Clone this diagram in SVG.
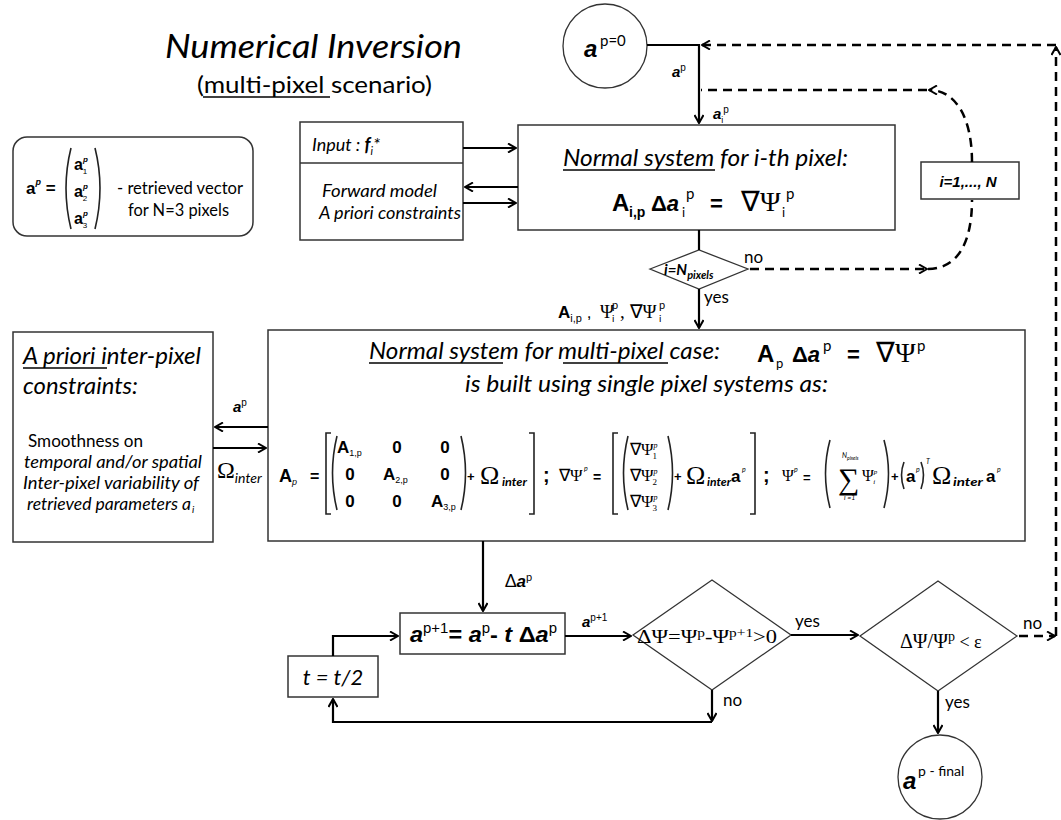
<svg xmlns="http://www.w3.org/2000/svg" width="1061" height="820" viewBox="0 0 1061 820">
<style>
.t{font-family:Lato,"Liberation Sans",sans-serif;fill:#000}
.i{font-style:italic}
.b{font-weight:bold}
.m{font-family:"Liberation Sans",Arial,sans-serif;font-weight:bold;fill:#000}
.s{font-family:"Liberation Serif","Times New Roman",serif;fill:#000}
.box{fill:#fff;stroke:#333;stroke-width:1.5}
.ln{fill:none;stroke:#000;stroke-width:2.2}
.ds{fill:none;stroke:#000;stroke-width:2.5;stroke-dasharray:9,6}
.br{fill:none;stroke:#222;stroke-width:1.6}
.ul{stroke:#000;stroke-width:1.3}
</style>
<defs>
<marker id="ah" viewBox="0 0 10 10" refX="9" refY="5" markerWidth="10" markerHeight="10" markerUnits="userSpaceOnUse" orient="auto">
<path d="M1,0.5 L9,5 L1,9.5" fill="none" stroke="#000" stroke-width="2"/>
</marker>
</defs>
<rect width="1061" height="820" fill="#fff"/>

<g id="title">
<text class="t i" x="165" y="58" font-size="33" textLength="297" lengthAdjust="spacingAndGlyphs">Numerical Inversion</text>
<text class="t" x="197" y="93" font-size="24" textLength="235" lengthAdjust="spacingAndGlyphs">(multi-pixel scenario)</text>
<line class="ul" x1="203" y1="97" x2="330" y2="97"/>
</g>

<g id="legend">
<rect class="box" x="13" y="137" width="240" height="99" rx="14"/>
<text class="m" x="26" y="194" font-size="17">a<tspan font-size="9" font-style="italic" dy="-9">p</tspan><tspan dy="9" font-size="17"> =</tspan></text>
<path class="br" d="M71,148 Q61,188 71,229"/>
<path class="br" d="M95,148 Q105,188 95,229"/>
<text class="m" x="74" y="170" font-size="16">a<tspan font-size="8" font-style="italic" dy="-8">p</tspan><tspan font-size="8" font-weight="normal" dx="-5" dy="12">1</tspan></text>
<text class="m" x="74" y="197" font-size="16">a<tspan font-size="8" font-style="italic" dy="-8">p</tspan><tspan font-size="8" font-weight="normal" dx="-5" dy="12">2</tspan></text>
<text class="m" x="74" y="224" font-size="16">a<tspan font-size="8" font-style="italic" dy="-8">p</tspan><tspan font-size="8" font-weight="normal" dx="-5" dy="12">3</tspan></text>
<text class="t" x="117" y="194" font-size="17" textLength="126" lengthAdjust="spacingAndGlyphs">- retrieved vector</text>
<text class="t" x="128" y="216" font-size="17" textLength="101" lengthAdjust="spacingAndGlyphs">for N=3 pixels</text>
</g>

<g id="start">
<circle cx="605" cy="46" r="42" fill="#fff" stroke="#333" stroke-width="1.3"/>
<text class="m i" x="584" y="57" font-size="24">a</text>
<text class="t" x="600" y="46" font-size="15">p=0</text>
</g>

<g id="input">
<rect class="box" x="300" y="122" width="163" height="118"/>
<line x1="300" y1="163" x2="463" y2="163" stroke="#333" stroke-width="1.5"/>
<text class="t i" x="312" y="151" font-size="18">Input : <tspan font-weight="bold">f</tspan><tspan font-size="11" dy="4">i</tspan><tspan dy="-4">*</tspan></text>
<text class="t i" x="322" y="197" font-size="17" textLength="115" lengthAdjust="spacingAndGlyphs">Forward model</text>
<text class="t i" x="319" y="219" font-size="17" textLength="142" lengthAdjust="spacingAndGlyphs">A priori constraints</text>
</g>

<g id="pixel-system">
<rect class="box" x="518" y="125" width="377" height="105"/>
<text class="t i" x="563" y="166" font-size="23" textLength="285" lengthAdjust="spacingAndGlyphs">Normal system for  i-th pixel:</text>
<line class="ul" x1="563" y1="170" x2="715" y2="170"/>
<text class="m" x="612" y="211" font-size="24">A</text>
<text class="m" x="629" y="217" font-size="14">i,p</text>
<text class="m" x="651" y="211" font-size="22">Δ<tspan font-style="italic">a</tspan></text>
<text class="t" x="682" y="217" font-size="13">i</text>
<text class="t" x="686" y="199" font-size="15">p</text>
<text class="m" x="710" y="211" font-size="22">=</text>
<text class="s" x="741" y="211" font-size="28">∇Ψ</text>
<text class="t" x="782" y="217" font-size="13">i</text>
<text class="t" x="786" y="199" font-size="15">p</text>
</g>

<g id="loop-index">
<rect class="box" x="921" y="162" width="98" height="37"/>
<text class="m i" x="968" y="187" font-size="15" text-anchor="middle">i=1,..., N</text>
</g>

<g id="check-pixels">
<polygon points="650,269 699,250 748,269 699,289" fill="#fff" stroke="#333" stroke-width="1.3"/>
<text class="t i b" x="664" y="275" font-size="15">i=N<tspan font-size="11" dy="4">pixels</tspan></text>
</g>

<g id="constraints">
<rect class="box" x="13" y="332" width="200" height="210"/>
<text class="t i" x="23" y="364" font-size="23" textLength="178" lengthAdjust="spacingAndGlyphs">A priori  inter-pixel</text>
<line class="ul" x1="23" y1="368" x2="107" y2="368"/>
<text class="t i" x="23" y="394" font-size="23" textLength="115" lengthAdjust="spacingAndGlyphs">constraints:</text>
<text class="t" x="28" y="447" font-size="17" textLength="115" lengthAdjust="spacingAndGlyphs">Smoothness on</text>
<text class="t i" x="24" y="468" font-size="17" textLength="178" lengthAdjust="spacingAndGlyphs">temporal and/or spatial</text>
<text class="t i" x="23" y="489" font-size="17" textLength="176" lengthAdjust="spacingAndGlyphs">Inter-pixel variability of</text>
<text class="t i" x="27" y="510" font-size="17" textLength="164" lengthAdjust="spacingAndGlyphs">retrieved parameters a</text>
<text class="t i" x="192" y="513" font-size="10">i</text>
</g>

<g id="multi-system">
<rect class="box" x="268" y="330" width="757" height="211"/>
<text class="t i" x="369" y="359" font-size="24" textLength="351" lengthAdjust="spacingAndGlyphs">Normal system for  multi-pixel case:</text>
<line class="ul" x1="369" y1="363" x2="503" y2="363"/>
<line class="ul" x1="563" y1="363" x2="668" y2="363"/>
<text class="m" x="757" y="362" font-size="24">A</text>
<text class="t" x="776" y="368" font-size="13">p</text>
<text class="m" x="792" y="362" font-size="22">Δ<tspan font-style="italic">a</tspan></text>
<text class="t" x="823" y="351" font-size="15">p</text>
<text class="m" x="847" y="362" font-size="22">=</text>
<text class="s" x="876" y="362" font-size="28">∇Ψ</text>
<text class="t" x="917" y="351" font-size="15">p</text>
<text class="t i" x="465" y="392" font-size="24" textLength="363" lengthAdjust="spacingAndGlyphs">is built using single pixel systems as:</text>

<text class="m" x="279" y="482" font-size="18">A<tspan font-size="9" font-style="italic" font-weight="normal" dy="3">p</tspan></text>
<text class="m" x="310" y="482" font-size="16">=</text>
<path class="br" d="M331,433 H326 V514 H331"/>
<path class="br" d="M337,436 Q328,473 337,510"/>
<text class="m" x="337" y="453" font-size="17">A<tspan font-size="9" font-weight="normal" dy="3">1,p</tspan></text>
<text class="m" x="397" y="453" font-size="17" text-anchor="middle">0</text>
<text class="m" x="445" y="453" font-size="17" text-anchor="middle">0</text>
<text class="m" x="350" y="480" font-size="17" text-anchor="middle">0</text>
<text class="m" x="383" y="480" font-size="17">A<tspan font-size="9" font-weight="normal" dy="3">2,p</tspan></text>
<text class="m" x="445" y="480" font-size="17" text-anchor="middle">0</text>
<text class="m" x="350" y="507" font-size="17" text-anchor="middle">0</text>
<text class="m" x="397" y="507" font-size="17" text-anchor="middle">0</text>
<text class="m" x="431" y="507" font-size="17">A<tspan font-size="9" font-weight="normal" dy="3">3,p</tspan></text>
<path class="br" d="M461,436 Q470,473 461,510"/>
<text class="m" x="467" y="481" font-size="13">+</text>
<text class="s" x="480" y="484" font-size="26">Ω</text>
<text class="t i b" x="502" y="486" font-size="11" textLength="25" lengthAdjust="spacingAndGlyphs">inter</text>
<path class="br" d="M529,433 H534 V514 H529"/>
<text class="m" x="543" y="482" font-size="20">;</text>
<text class="s" x="559" y="481" font-size="17">∇Ψ</text>
<text class="t i" x="584" y="471" font-size="7">p</text>
<text class="m" x="593" y="482" font-size="14">=</text>
<path class="br" d="M618,433 H613 V514 H618"/>
<path class="br" d="M628,436 Q619,473 628,510"/>
<text class="s" x="630" y="455" font-size="17">∇Ψ<tspan font-size="8" font-style="italic" dy="-7">p</tspan><tspan font-size="9" dx="-5" dy="11">1</tspan></text>
<text class="s" x="630" y="481" font-size="17">∇Ψ<tspan font-size="8" font-style="italic" dy="-7">p</tspan><tspan font-size="9" dx="-5" dy="11">2</tspan></text>
<text class="s" x="630" y="507" font-size="17">∇Ψ<tspan font-size="8" font-style="italic" dy="-7">p</tspan><tspan font-size="9" dx="-5" dy="11">3</tspan></text>
<path class="br" d="M668,436 Q677,473 668,510"/>
<text class="m" x="674" y="481" font-size="13">+</text>
<text class="s" x="686" y="484" font-size="26">Ω</text>
<text class="t i b" x="707" y="486" font-size="11" textLength="24" lengthAdjust="spacingAndGlyphs">inter</text>
<text class="m" x="731" y="482" font-size="17">a</text>
<text class="t i" x="742" y="472" font-size="7">p</text>
<path class="br" d="M750,433 H755 V514 H750"/>
<text class="m" x="763" y="482" font-size="20">;</text>
<text class="s" x="782" y="481" font-size="16">Ψ</text>
<text class="t i" x="794" y="472" font-size="7">p</text>
<text class="m" x="803" y="482" font-size="13">=</text>
<path class="br" d="M830,440 Q821,473 830,508"/>
<text class="t i" x="842" y="458" font-size="7">N<tspan font-size="5" dy="2">pixels</tspan></text>
<text class="s" x="838" y="489" font-size="30">∑</text>
<text class="t i" x="844" y="500" font-size="7">i =1</text>
<text class="s" x="862" y="481" font-size="16">Ψ<tspan font-size="7" font-style="italic" dy="-7">p</tspan><tspan font-size="7" font-style="italic" dx="-4" dy="10">i</tspan></text>
<path class="br" d="M884,440 Q893,473 884,508"/>
<text class="m" x="891" y="481" font-size="13">+</text>
<path class="br" d="M904,462 Q899,475 904,489"/>
<text class="m" x="906" y="482" font-size="17">a</text>
<text class="t i" x="916" y="472" font-size="7">p</text>
<path class="br" d="M921,462 Q926,475 921,489"/>
<text class="t i" x="926" y="464" font-size="7">T</text>
<text class="s" x="932" y="484" font-size="26">Ω</text>
<text class="t i b" x="953" y="486" font-size="11" textLength="30" lengthAdjust="spacingAndGlyphs">inter</text>
<text class="m" x="986" y="482" font-size="17">a</text>
<text class="t i" x="997" y="472" font-size="7">p</text>
</g>

<g id="update">
<rect class="box" x="400" y="613" width="165" height="41"/>
<text class="m" x="410" y="642" font-size="22" textLength="147" lengthAdjust="spacingAndGlyphs"><tspan font-style="italic">a</tspan><tspan font-size="14" font-weight="normal" dy="-9">p+1</tspan><tspan dy="9">= </tspan><tspan font-style="italic">a</tspan><tspan font-size="14" font-weight="normal" dy="-9">p</tspan><tspan dy="9">- </tspan><tspan font-style="italic">t</tspan> Δ<tspan font-style="italic">a</tspan><tspan font-size="14" font-weight="normal" dy="-9">p</tspan></text>
</g>

<g id="halve-step">
<rect class="box" x="288" y="656" width="90" height="41"/>
<text class="t i" x="333" y="685" font-size="22" text-anchor="middle">t = t/2</text>
</g>

<g id="check-decrease">
<polygon points="633,635 712,580 791,635 712,690" fill="#fff" stroke="#333" stroke-width="1.3"/>
<text class="s" x="637" y="643" font-size="19" textLength="140" lengthAdjust="spacingAndGlyphs">ΔΨ=Ψ<tspan font-size="13" dy="-6">p</tspan><tspan dy="6">-Ψ</tspan><tspan font-size="13" dy="-6">p+1</tspan><tspan dy="6">&gt;0</tspan></text>
</g>

<g id="check-converge">
<polygon points="860,636 938,581 1017,636 938,691" fill="#fff" stroke="#333" stroke-width="1.3"/>
<text class="s" x="900" y="648" font-size="20">ΔΨ/Ψ<tspan font-size="14" dy="-7">p</tspan><tspan font-size="18" dy="7"> &lt; ε</tspan></text>
</g>

<g id="final">
<circle cx="940" cy="777" r="42" fill="#fff" stroke="#333" stroke-width="1.3"/>
<text class="m i" x="903" y="789" font-size="24">a</text>
<text class="t" x="918" y="776" font-size="14">p - final</text>
</g>

<g id="connectors">
<path class="ln" d="M647,45 H699 V123" marker-end="url(#ah)"/>
<path class="ln" d="M463,148 H516" marker-end="url(#ah)"/>
<path class="ln" d="M518,187 H465" marker-end="url(#ah)"/>
<path class="ln" d="M463,203 H516" marker-end="url(#ah)"/>
<path class="ln" d="M699,230 V250"/>
<path class="ln" d="M699,289 V328" marker-end="url(#ah)"/>
<path class="ln" d="M268,427 H215" marker-end="url(#ah)"/>
<path class="ln" d="M213,448 H266" marker-end="url(#ah)"/>
<path class="ln" d="M483,541 V611" marker-end="url(#ah)"/>
<path class="ln" d="M565,636 H631" marker-end="url(#ah)"/>
<path class="ln" d="M791,635 H858" marker-end="url(#ah)"/>
<path class="ln" d="M712,690 V721" marker-end="url(#ah)"/>
<path class="ln" d="M712,722 H333 V699" marker-end="url(#ah)"/>
<path class="ln" d="M333,656 V636 H398" marker-end="url(#ah)"/>
<path class="ln" d="M938,691 V733" marker-end="url(#ah)"/>
<path class="ds" d="M750,269 H927" marker-end="url(#ah)"/>
<path class="ds" d="M928,269 C956,269 972,245 972,200"/>
<path class="ds" d="M972,162 C972,118 956,90 929,90" marker-end="url(#ah)"/>
<path class="ds" d="M927,90 H701"/>
<path class="ds" d="M1019,636 H1055" marker-end="url(#ah)"/>
<path class="ds" d="M1056,636 V47" marker-end="url(#ah)"/>
<path class="ds" d="M1056,45 H702" marker-end="url(#ah)"/>
<text class="m i" x="672" y="77" font-size="15">a<tspan font-style="normal" font-weight="normal" font-size="10" dy="-6">p</tspan></text>
<text class="m i" x="713" y="119" font-size="15">a<tspan font-style="normal" font-weight="normal" font-size="9" dy="4">i</tspan><tspan font-style="normal" font-weight="normal" font-size="10" dy="-10">p</tspan></text>
<text class="t" x="744" y="263" font-size="17">no</text>
<text class="t" x="704" y="303" font-size="17">yes</text>
<text class="m" x="558" y="318" font-size="17">A<tspan font-size="11" font-weight="normal" dy="4">i,p</tspan><tspan font-weight="normal" dy="-4"> ,</tspan></text>
<text class="s" x="600" y="318" font-size="19">Ψ</text>
<text class="t" x="612" y="322" font-size="10">i</text>
<text class="t" x="612" y="309" font-size="11">p</text>
<text class="s" x="620" y="318" font-size="19">, ∇Ψ</text>
<text class="t" x="659" y="322" font-size="10">i</text>
<text class="t" x="659" y="309" font-size="11">p</text>
<text class="m i" x="233" y="412" font-size="15">a<tspan font-style="normal" font-weight="normal" font-size="10" dy="-6">p</tspan></text>
<text class="s" x="217" y="478" font-size="24">Ω<tspan class="t i" font-size="14" dy="5">inter</tspan></text>
<text class="t" x="505" y="587" font-size="17">Δ<tspan class="m i" font-size="17">a</tspan><tspan font-size="11" dy="-6">p</tspan></text>
<text class="m i" x="582" y="627" font-size="15">a<tspan font-style="normal" font-weight="normal" font-size="10" dy="-6">p+1</tspan></text>
<text class="t" x="795" y="627" font-size="17">yes</text>
<text class="t" x="723" y="706" font-size="17">no</text>
<text class="t" x="1023" y="629" font-size="17">no</text>
<text class="t" x="945" y="708" font-size="17">yes</text>
</g>
</svg>
